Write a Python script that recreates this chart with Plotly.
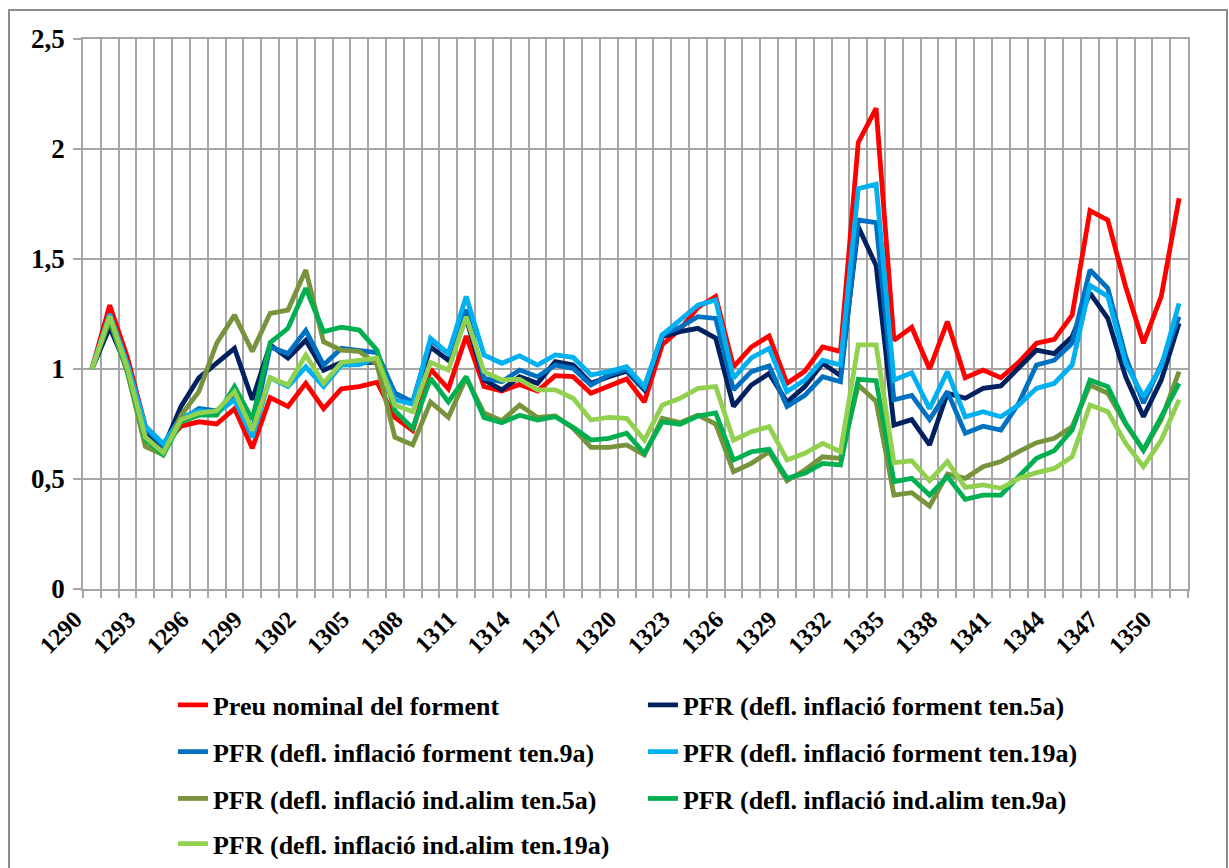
import plotly.graph_objects as go

years = list(range(1290, 1352))
tick_years = [1290, 1293, 1296, 1299, 1302, 1305, 1308, 1311, 1314, 1317, 1320,
              1323, 1326, 1329, 1332, 1335, 1338, 1341, 1344, 1347, 1350]

preu_nominal = [1.00, 1.29, 1.05, 0.74, 0.65, 0.74, 0.76, 0.75, 0.82, 0.64,
                0.87, 0.83, 0.935, 0.82, 0.91, 0.92, 0.94, 0.78, 0.72, 1.00,
                0.91, 1.15, 0.92, 0.90, 0.93, 0.90, 0.97, 0.965, 0.89, 0.925,
                0.955, 0.85, 1.11, 1.18, 1.28, 1.33, 1.01, 1.10, 1.15, 0.935,
                0.99, 1.10, 1.08, 2.03, 2.185, 1.13, 1.19, 1.00, 1.215, 0.96,
                0.995, 0.96, 1.03, 1.117, 1.135, 1.245, 1.72, 1.677, 1.374, 1.117,
                1.33, 1.776]

forment_5a = [1.00, 1.19, 1.00, 0.72, 0.64, 0.83, 0.96, 1.03, 1.094, 0.86,
              1.11, 1.05, 1.13, 0.995, 1.03, 1.03, 1.03, 0.89, 0.845, 1.10,
              1.04, 1.23, 0.95, 0.905, 0.965, 0.935, 1.033, 1.018, 0.935, 0.965,
              0.99, 0.905, 1.147, 1.17, 1.185, 1.14, 0.83, 0.927, 0.98, 0.85,
              0.92, 1.026, 0.97, 1.647, 1.47, 0.745, 0.77, 0.655, 0.89, 0.867,
              0.912, 0.923, 1.003, 1.086, 1.07, 1.147, 1.345, 1.23, 0.965, 0.783,
              0.95, 1.208]

forment_9a = [1.00, 1.24, 1.02, 0.73, 0.65, 0.765, 0.82, 0.81, 0.88, 0.72,
              1.10, 1.07, 1.175, 1.018, 1.094, 1.083, 1.074, 0.89, 0.85, 1.13,
              1.07, 1.27, 0.958, 0.942, 0.995, 0.965, 1.018, 1.003, 0.927, 0.973,
              0.998, 0.912, 1.155, 1.19, 1.238, 1.23, 0.905, 0.988, 1.014, 0.83,
              0.88, 0.965, 0.942, 1.677, 1.665, 0.86, 0.88, 0.77, 0.897, 0.708,
              0.74, 0.722, 0.844, 1.018, 1.04, 1.117, 1.45, 1.367, 1.056, 0.845,
              1.02, 1.238]

forment_19a = [1.00, 1.25, 1.02, 0.74, 0.66, 0.78, 0.81, 0.80, 0.86, 0.69,
               0.96, 0.92, 1.01, 0.92, 1.018, 1.02, 1.05, 0.86, 0.84, 1.14,
               1.07, 1.33, 1.064, 1.026, 1.06, 1.018, 1.064, 1.053, 0.973, 0.988,
               1.01, 0.92, 1.155, 1.223, 1.29, 1.314, 0.958, 1.05, 1.094, 0.897,
               0.95, 1.04, 1.018, 1.82, 1.84, 0.95, 0.983, 0.82, 0.988, 0.783,
               0.806, 0.783, 0.836, 0.912, 0.935, 1.018, 1.38, 1.33, 1.026, 0.874,
               1.01, 1.298]

alim_5a = [1.00, 1.22, 0.98, 0.647, 0.61, 0.79, 0.897, 1.117, 1.245, 1.08,
           1.253, 1.268, 1.45, 1.124, 1.086, 1.08, 1.02, 0.69, 0.655, 0.85,
           0.78, 0.96, 0.80, 0.765, 0.836, 0.78, 0.786, 0.73, 0.644, 0.644,
           0.655, 0.61, 0.776, 0.756, 0.79, 0.75, 0.533, 0.571, 0.624, 0.492,
           0.541, 0.601, 0.594, 0.927, 0.852, 0.427, 0.438, 0.377, 0.523, 0.503,
           0.556, 0.579, 0.624, 0.665, 0.685, 0.738, 0.927, 0.89, 0.75, 0.63,
           0.77, 0.988]

alim_9a = [1.00, 1.23, 0.99, 0.68, 0.61, 0.76, 0.79, 0.79, 0.92, 0.77,
           1.12, 1.185, 1.367, 1.17, 1.19, 1.177, 1.086, 0.81, 0.73, 0.958,
           0.85, 0.965, 0.78, 0.756, 0.79, 0.768, 0.783, 0.735, 0.677, 0.685,
           0.708, 0.617, 0.76, 0.749, 0.786, 0.80, 0.586, 0.624, 0.635, 0.503,
           0.526, 0.571, 0.564, 0.953, 0.947, 0.488, 0.503, 0.427, 0.511, 0.408,
           0.427, 0.427, 0.511, 0.594, 0.629, 0.723, 0.95, 0.92, 0.754, 0.632,
           0.783, 0.935]

alim_19a = [1.00, 1.24, 1.00, 0.69, 0.62, 0.77, 0.80, 0.81, 0.897, 0.72,
            0.96, 0.927, 1.063, 0.935, 1.03, 1.04, 1.05, 0.836, 0.806, 1.03,
            0.995, 1.238, 0.988, 0.95, 0.953, 0.905, 0.905, 0.867, 0.768, 0.78,
            0.776, 0.677, 0.836, 0.867, 0.912, 0.92, 0.677, 0.715, 0.738, 0.586,
            0.617, 0.662, 0.624, 1.11, 1.11, 0.574, 0.583, 0.492, 0.579, 0.462,
            0.473, 0.458, 0.503, 0.529, 0.548, 0.601, 0.836, 0.806, 0.663, 0.556,
            0.677, 0.86]

series = [
    ("Preu nominal del forment", preu_nominal, "#FF0000", "legend"),
    ("PFR (defl. inflació forment ten.5a)", forment_5a, "#002060", "legend"),
    ("PFR (defl. inflació forment ten.9a)", forment_9a, "#0070C0", "legend2"),
    ("PFR (defl. inflació forment ten.19a)", forment_19a, "#00B0F0", "legend2"),
    ("PFR (defl. inflació ind.alim ten.5a)", alim_5a, "#77933C", "legend3"),
    ("PFR (defl. inflació ind.alim ten.9a)", alim_9a, "#00B050", "legend3"),
    ("PFR (defl. inflació ind.alim ten.19a)", alim_19a, "#92D050", "legend4"),
]

FONT = "Liberation Serif"
GRID = "#A6A6A6"

fig = go.Figure()
for name, vals, color, leg in series:
    fig.add_trace(go.Scatter(
        x=years, y=vals, name=name, mode="lines",
        line=dict(color=color, width=4.8),
        legend=leg,
    ))

leg_common = dict(
    orientation="h", xanchor="left", yanchor="middle", x=0.0814,
    font=dict(family=FONT, size=26, color="#000000", weight="bold"),
    entrywidth=425, entrywidthmode="pixels",
    bgcolor="rgba(0,0,0,0)", borderwidth=0, itemwidth=30,
)

fig.update_layout(
    width=1229, height=868,
    margin=dict(l=83, r=41, t=39, b=279, autoexpand=False),
    paper_bgcolor="white", plot_bgcolor="white",
    separators=", ",
    showlegend=True,
    font=dict(family=FONT, size=20, color="#000000"),
    legend=dict(leg_common, y=-0.211),
    legend2=dict(leg_common, y=-0.296),
    legend3=dict(leg_common, y=-0.381),
    legend4=dict(leg_common, y=-0.463),
    xaxis=dict(
        range=[1289.5, 1351.5], tickmode="array", tickvals=tick_years,
        ticktext=[str(t) for t in tick_years], tickangle=-45,
        tickfont=dict(family=FONT, size=24, color="#000000", weight="bold"),
        ticklabelstandoff=5, ticklabelshift=-17,
        showgrid=False, zeroline=False, ticks="", automargin=False,
        showline=True, linecolor=GRID, linewidth=1.5, mirror=True,
        minor=dict(tick0=1289.5, dtick=1, showgrid=True, gridcolor=GRID,
                   gridwidth=1.5, ticks="outside", ticklen=7, tickcolor=GRID,
                   tickwidth=1.5),
    ),
    yaxis=dict(
        range=[0, 2.5], dtick=0.5, tick0=0, automargin=False,
        tickfont=dict(family=FONT, size=27, color="#000000", weight="bold"),
        ticklabelstandoff=3,
        showgrid=True, gridcolor=GRID, gridwidth=1.5, zeroline=False,
        ticks="outside", ticklen=8, tickcolor=GRID, tickwidth=1.5,
        showline=True, linecolor=GRID, linewidth=1.5, mirror=True,
    ),
    shapes=[dict(type="rect", xref="paper", yref="paper",
                 x0=-0.06697, x1=1.03529, y0=-0.5109, y1=1.05273,
                 line=dict(color="#8C8C8C", width=2), layer="below")],
)

fig.write_html("out.html", config={"displayModeBar": False},
               post_script="document.body.style.margin='0';document.body.style.overflow='hidden';")
